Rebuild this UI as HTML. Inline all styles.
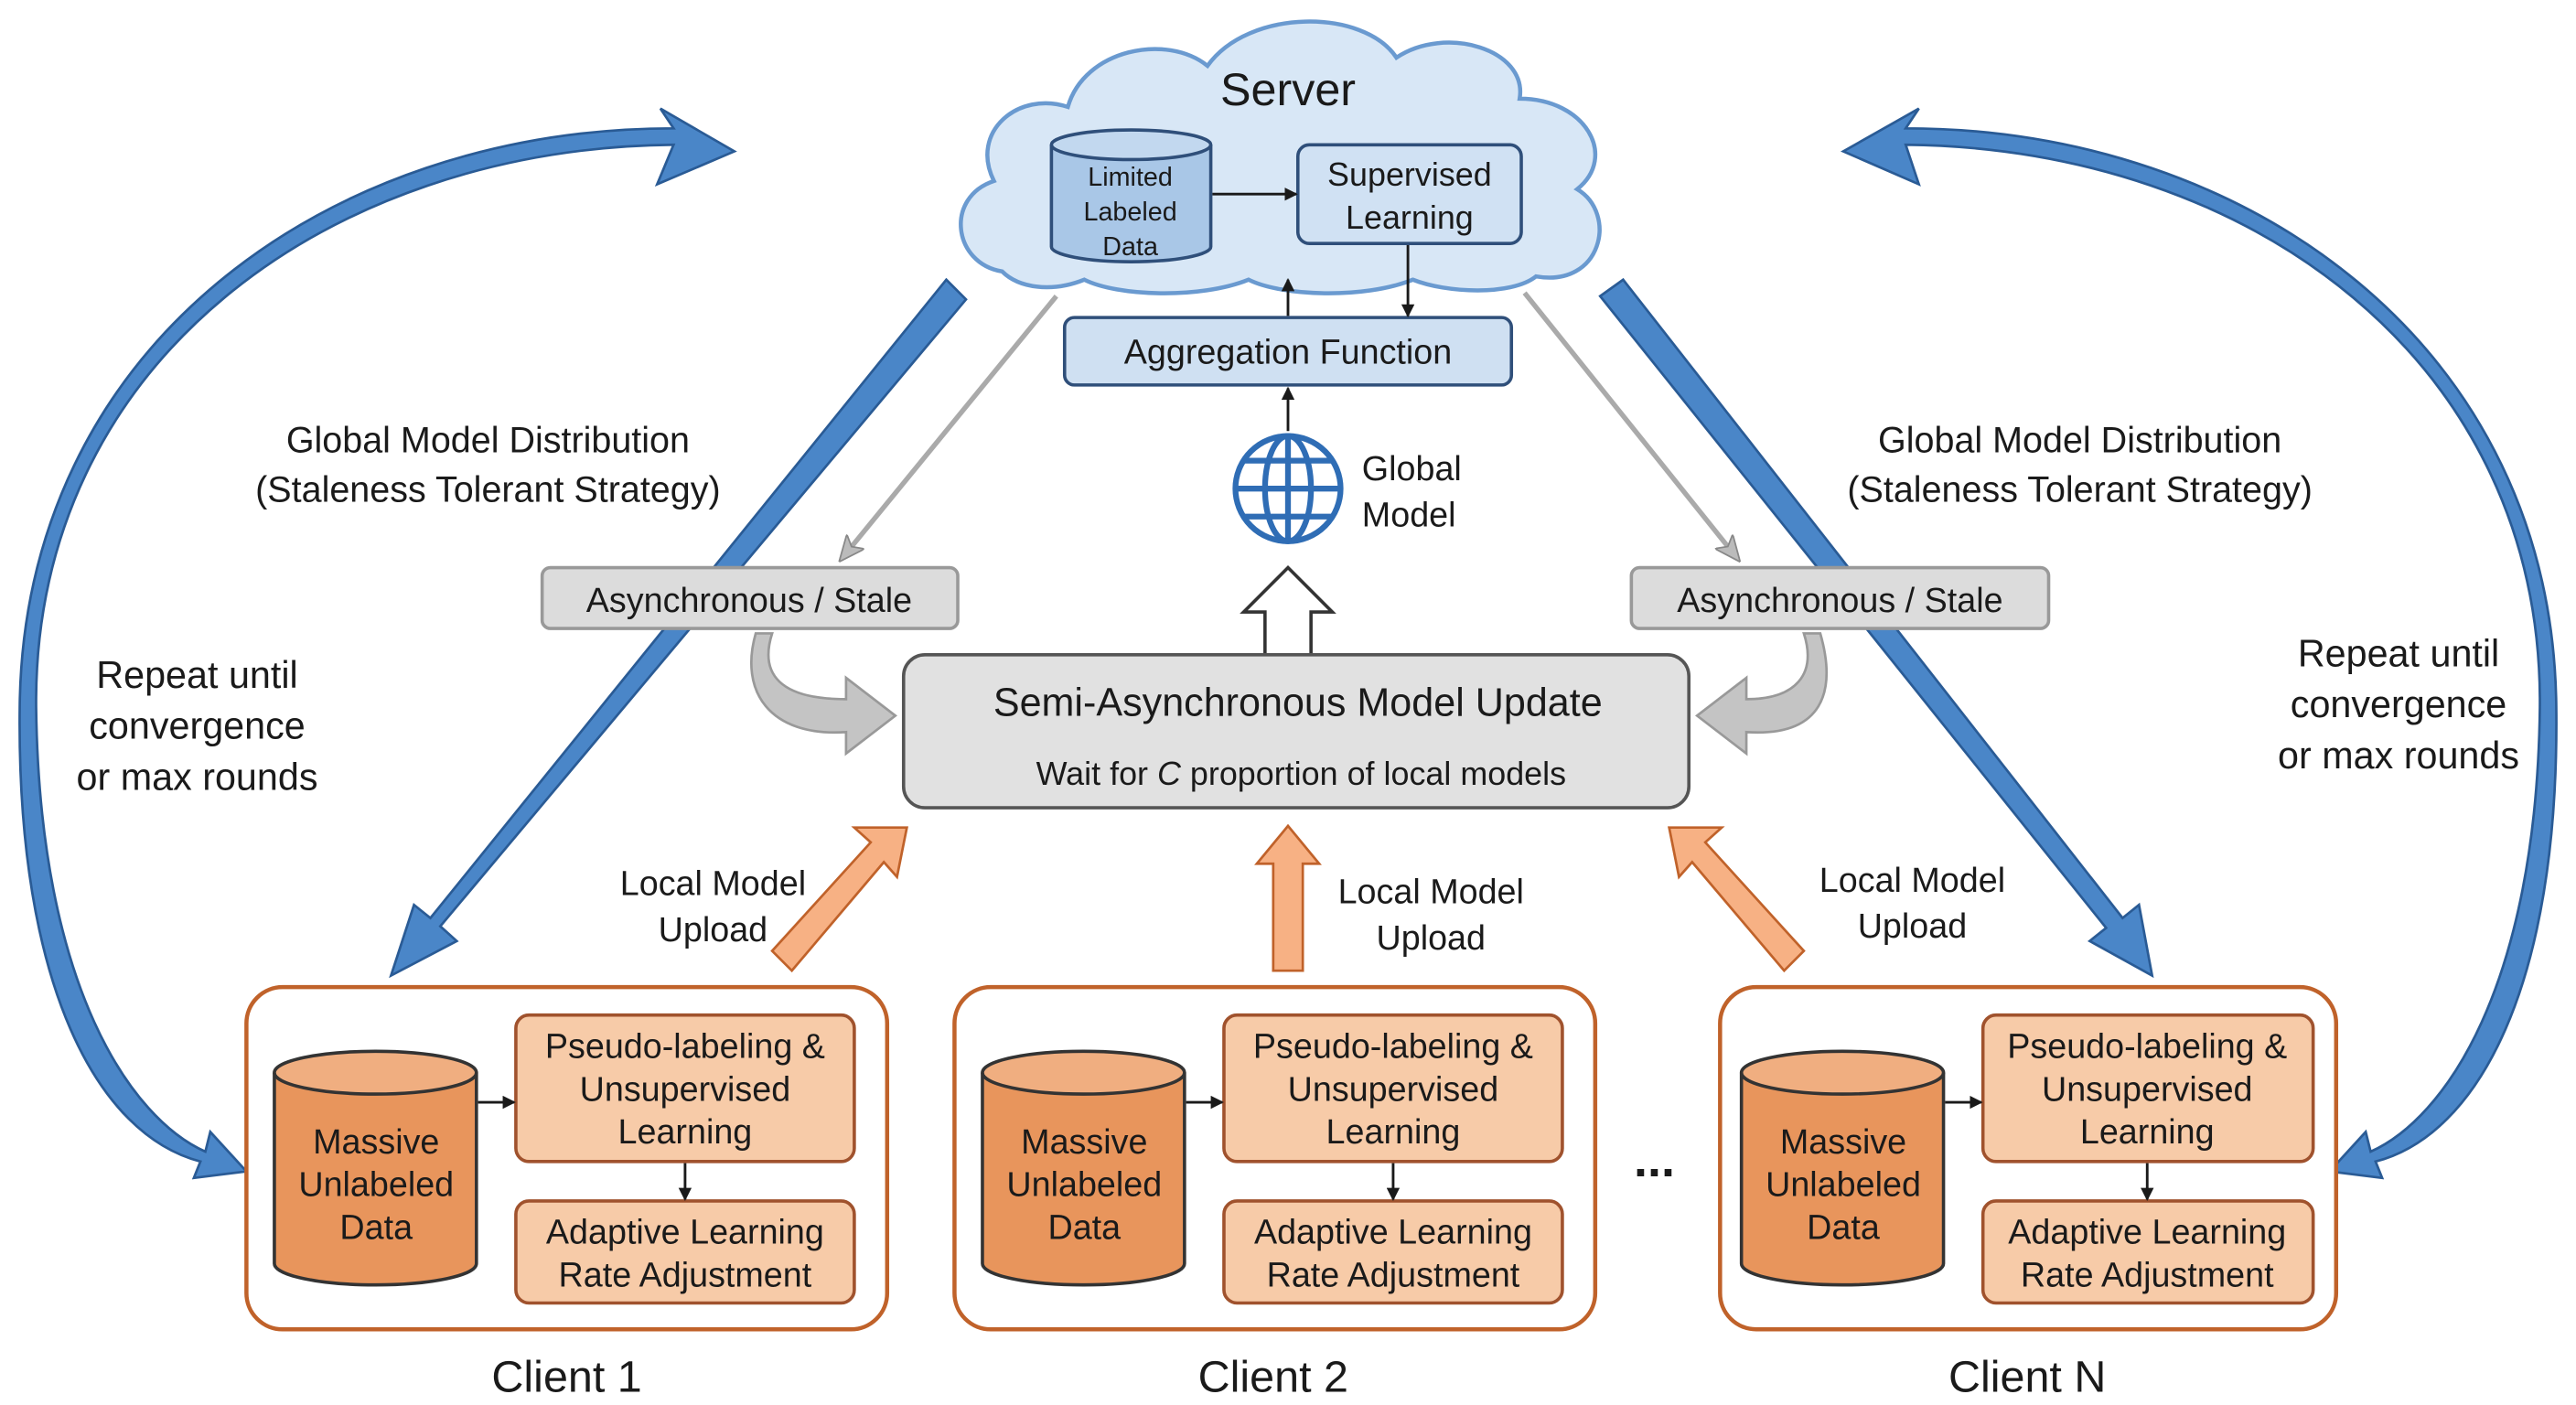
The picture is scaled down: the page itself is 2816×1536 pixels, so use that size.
<!DOCTYPE html>
<html><head><meta charset="utf-8"><style>html,body{margin:0;padding:0;background:#fff}svg{display:block}text{font-family:"Liberation Sans",sans-serif;fill:#1a1a1a}</style></head><body>
<svg width="2816" height="1536" viewBox="0 0 1568 854" preserveAspectRatio="none" xmlns="http://www.w3.org/2000/svg">
<defs>
<marker id="ab" markerWidth="8" markerHeight="8" refX="7" refY="4" orient="auto" markerUnits="userSpaceOnUse"><path d="M0,0 L8,4 L0,8z" fill="#1a1a1a"/></marker>
<marker id="ag" markerWidth="16" markerHeight="14" refX="14" refY="7" orient="auto" markerUnits="userSpaceOnUse"><path d="M0,0 L16,7 L0,14 L4,7z" fill="#bbb" stroke="#888"/></marker>
</defs>
<rect width="1568" height="854" fill="#fff"/>
<!-- cloud -->
<path d="M610,165 C580,160 575,120 605,110 C590,80 620,55 650,65 C660,30 710,20 735,40 C760,5 830,5 850,35 C880,15 930,30 925,60 C965,60 985,95 960,115 C985,130 975,175 935,168 C920,180 880,178 860,170 C830,182 780,180 760,170 C730,182 680,180 660,170 C640,178 620,175 610,165z" fill="#d8e7f6" stroke="#6a9ad0" stroke-width="2.5"/>
<text x="784" y="64" font-size="28" text-anchor="middle">Server</text>
<path d="M640,88 L640,150 A48,9 0 0 0 737,150 L737,88" fill="#a9c7e7" stroke="#2f4f7a" stroke-width="2"/>
<ellipse cx="688.5" cy="88" rx="48.5" ry="9" fill="#c2d8ef" stroke="#2f4f7a" stroke-width="2"/>
<text font-size="16" text-anchor="middle"><tspan x="688" y="113">Limited</tspan><tspan x="688" y="134">Labeled</tspan><tspan x="688" y="155">Data</tspan></text>
<rect x="790" y="88" width="136" height="60" rx="7" fill="#d0e1f3" stroke="#2f4f7a" stroke-width="2"/>
<text font-size="20" text-anchor="middle"><tspan x="858" y="113">Supervised</tspan><tspan x="858" y="139">Learning</tspan></text>
<line x1="738" y1="118" x2="789" y2="118" stroke="#1a1a1a" stroke-width="1.6" marker-end="url(#ab)"/>
<rect x="648" y="193" width="272" height="41" rx="6" fill="#cfe0f2" stroke="#2f4f7a" stroke-width="2"/>
<text x="784" y="221" font-size="21" text-anchor="middle">Aggregation Function</text>
<line x1="784" y1="192" x2="784" y2="170" stroke="#1a1a1a" stroke-width="1.6" marker-end="url(#ab)"/>
<line x1="857" y1="149" x2="857" y2="192" stroke="#1a1a1a" stroke-width="1.6" marker-end="url(#ab)"/>
<line x1="784" y1="262" x2="784" y2="236" stroke="#1a1a1a" stroke-width="1.6" marker-end="url(#ab)"/>
<!-- globe -->
<g fill="none" stroke="#2f6db5" stroke-width="3.5"><circle cx="784" cy="297" r="32"/><ellipse cx="784" cy="297" rx="14" ry="32"/><line x1="784" y1="265" x2="784" y2="329"/><line x1="752" y1="297" x2="816" y2="297"/><path d="M757,280 H811 M757,314 H811"/></g>
<text font-size="21"><tspan x="829" y="292">Global</tspan><tspan x="829" y="320">Model</tspan></text>
<!-- hollow up arrow -->
<path d="M770,398 L770,372 L757,372 L784,345 L811,372 L798,372 L798,398z" fill="#fff" stroke="#333" stroke-width="2"/>
<!-- semi box -->
<rect x="550" y="398" width="478" height="93" rx="13" fill="#e1e1e1" stroke="#555" stroke-width="2"/>
<text x="790" y="435" font-size="24" text-anchor="middle">Semi-Asynchronous Model Update</text>
<text x="792" y="477" font-size="20" text-anchor="middle">Wait for <tspan font-style="italic">C</tspan> proportion of local models</text>
<!-- gray thin arrows -->
<line x1="643" y1="180" x2="512" y2="340" stroke="#aaa" stroke-width="3" marker-end="url(#ag)"/>
<line x1="928" y1="178" x2="1058" y2="340" stroke="#aaa" stroke-width="3" marker-end="url(#ag)"/>
<!-- blue diagonal arrows (behind boxes) -->
<path d="M576,170 L588,182 L268,563 L278,572 L238,593 L252,550 L262,558 L576,170z" fill="#4a86c8" stroke="#2a5b95" stroke-width="1.5"/>
<path d="M974,180 L988,170 L1292,558 L1302,550 L1310,593 L1272,572 L1282,564z" fill="#4a86c8" stroke="#2a5b95" stroke-width="1.5"/>
<!-- async boxes -->
<rect x="330" y="345" width="253" height="37" rx="5" fill="#dcdcdc" stroke="#999" stroke-width="2"/>
<text x="456" y="372" font-size="21" text-anchor="middle">Asynchronous / Stale</text>
<rect x="993" y="345" width="254" height="37" rx="5" fill="#dcdcdc" stroke="#999" stroke-width="2"/>
<text x="1120" y="372" font-size="21" text-anchor="middle">Asynchronous / Stale</text>
<!-- curved gray arrows -->
<path d="M470,385 C462,410 475,425 515,425 L515,412 L545,435 L515,458 L515,445 C468,448 450,420 460,385z" fill="#c4c4c4" stroke="#999" stroke-width="1.5"/>
<path d="M1098,385 C1106,410 1093,425 1063,425 L1063,412 L1033,435 L1063,458 L1063,445 C1110,448 1118,420 1108,385z" fill="#c4c4c4" stroke="#999" stroke-width="1.5"/>
<!-- big curved arrows -->
<path d="M410,88 C200,90 20,220 22,430 C24,600 80,680 125,700 L128,688 L150,712 L118,716 L122,706 C60,690 10,600 12,430 C14,210 200,78 410,78 L402,66 L447,92 L400,112z" fill="#4a86c8" stroke="#2a5b95" stroke-width="1.5"/>
<path d="M1160,88 C1370,90 1548,220 1546,430 C1544,600 1488,680 1443,700 L1440,688 L1418,712 L1450,716 L1446,706 C1508,690 1558,600 1556,430 C1554,210 1368,78 1160,78 L1168,66 L1122,92 L1168,112z" fill="#4a86c8" stroke="#2a5b95" stroke-width="1.5"/>
<text font-size="22" text-anchor="middle"><tspan x="297" y="275">Global Model Distribution</tspan><tspan x="297" y="305">(Staleness Tolerant Strategy)</tspan></text>
<text font-size="22" text-anchor="middle"><tspan x="1266" y="275">Global Model Distribution</tspan><tspan x="1266" y="305">(Staleness Tolerant Strategy)</tspan></text>
<text font-size="23" text-anchor="middle"><tspan x="120" y="418">Repeat until</tspan><tspan x="120" y="449">convergence</tspan><tspan x="120" y="480">or max rounds</tspan></text>
<text font-size="23" text-anchor="middle"><tspan x="1460" y="405">Repeat until</tspan><tspan x="1460" y="436">convergence</tspan><tspan x="1460" y="467">or max rounds</tspan></text>
<!-- upload arrows -->
<path d="M470,578 L530,512 L520,503 L552,503 L546,533 L538,524 L482,590z" fill="#f7b184" stroke="#c0622a" stroke-width="1.5"/>
<path d="M775,590 L775,525 L765,525 L784,502 L803,525 L793,525 L793,590z" fill="#f7b184" stroke="#c0622a" stroke-width="1.5"/>
<path d="M1098,578 L1038,512 L1048,503 L1016,503 L1022,533 L1030,524 L1086,590z" fill="#f7b184" stroke="#c0622a" stroke-width="1.5"/>
<text font-size="21" text-anchor="middle"><tspan x="434" y="544">Local Model</tspan><tspan x="434" y="572">Upload</tspan></text>
<text font-size="21" text-anchor="middle"><tspan x="871" y="549">Local Model</tspan><tspan x="871" y="577">Upload</tspan></text>
<text font-size="21" text-anchor="middle"><tspan x="1164" y="542">Local Model</tspan><tspan x="1164" y="570">Upload</tspan></text>
<!-- clients -->
<g id="c">
<rect x="150" y="600" width="390" height="208" rx="22" fill="#fff" stroke="#c0622a" stroke-width="2.5"/>
<path d="M167,652 L167,768 A61.5,13 0 0 0 290,768 L290,652" fill="#e8955c" stroke="#333" stroke-width="2"/>
<ellipse cx="228.5" cy="652" rx="61.5" ry="13" fill="#f0ae80" stroke="#333" stroke-width="2"/>
<text font-size="21" text-anchor="middle"><tspan x="229" y="701">Massive</tspan><tspan x="229" y="727">Unlabeled</tspan><tspan x="229" y="753">Data</tspan></text>
<rect x="314" y="617" width="206" height="89" rx="8" fill="#f7cba8" stroke="#a0522d" stroke-width="2"/>
<text font-size="21" text-anchor="middle"><tspan x="417" y="643">Pseudo-labeling &amp;</tspan><tspan x="417" y="669">Unsupervised</tspan><tspan x="417" y="695">Learning</tspan></text>
<rect x="314" y="730" width="206" height="62" rx="8" fill="#f7cba8" stroke="#a0522d" stroke-width="2"/>
<text font-size="21" text-anchor="middle"><tspan x="417" y="756">Adaptive Learning</tspan><tspan x="417" y="782">Rate Adjustment</tspan></text>
<line x1="291" y1="670" x2="313" y2="670" stroke="#1a1a1a" stroke-width="1.6" marker-end="url(#ab)"/>
<line x1="417" y1="707" x2="417" y2="729" stroke="#1a1a1a" stroke-width="1.6" marker-end="url(#ab)"/>
</g>
<use href="#c" transform="translate(431,0)"/>
<!-- client N -->
<rect x="1047" y="600" width="375" height="208" rx="22" fill="#fff" stroke="#c0622a" stroke-width="2.5"/>
<path d="M1060,652 L1060,768 A61.5,13 0 0 0 1183,768 L1183,652" fill="#e8955c" stroke="#333" stroke-width="2"/>
<ellipse cx="1121.5" cy="652" rx="61.5" ry="13" fill="#f0ae80" stroke="#333" stroke-width="2"/>
<text font-size="21" text-anchor="middle"><tspan x="1122" y="701">Massive</tspan><tspan x="1122" y="727">Unlabeled</tspan><tspan x="1122" y="753">Data</tspan></text>
<rect x="1207" y="617" width="201" height="89" rx="8" fill="#f7cba8" stroke="#a0522d" stroke-width="2"/>
<text font-size="21" text-anchor="middle"><tspan x="1307" y="643">Pseudo-labeling &amp;</tspan><tspan x="1307" y="669">Unsupervised</tspan><tspan x="1307" y="695">Learning</tspan></text>
<rect x="1207" y="730" width="201" height="62" rx="8" fill="#f7cba8" stroke="#a0522d" stroke-width="2"/>
<text font-size="21" text-anchor="middle"><tspan x="1307" y="756">Adaptive Learning</tspan><tspan x="1307" y="782">Rate Adjustment</tspan></text>
<line x1="1184" y1="670" x2="1206" y2="670" stroke="#1a1a1a" stroke-width="1.6" marker-end="url(#ab)"/>
<line x1="1307" y1="707" x2="1307" y2="729" stroke="#1a1a1a" stroke-width="1.6" marker-end="url(#ab)"/>
<text x="345" y="846" font-size="27" text-anchor="middle">Client 1</text>
<text x="775" y="846" font-size="27" text-anchor="middle">Client 2</text>
<text x="1234" y="846" font-size="27" text-anchor="middle">Client N</text>
<text x="1007" y="715" font-size="30" text-anchor="middle" font-weight="bold">...</text>
</svg>
</body></html>
